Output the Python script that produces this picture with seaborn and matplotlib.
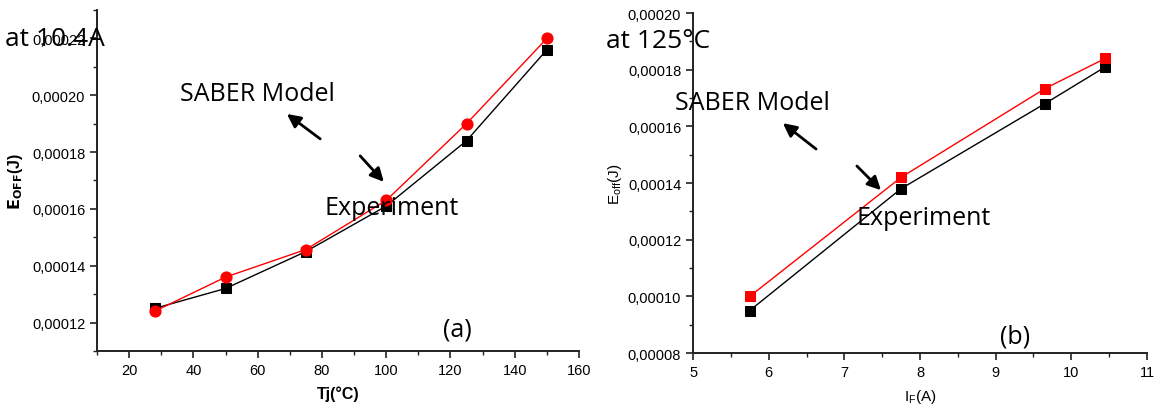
import matplotlib
matplotlib.use("Agg")
import matplotlib.pyplot as plt
from matplotlib.ticker import FuncFormatter, MultipleLocator
import seaborn as sns
import pandas as pd

# Panel (a): turn-off energy vs junction temperature at 10.4 A
tj_c = [28, 50, 75, 100, 125, 150]
eoff_exp_a = [0.000125, 0.000132, 0.000145, 0.000161, 0.000184, 0.000216]
eoff_saber_a = [0.000124, 0.000136, 0.0001457, 0.000163, 0.000190, 0.000220]

# Panel (b): turn-off energy vs forward current at 125 °C
if_a = [5.75, 7.75, 9.65, 10.45]
eoff_exp_b = [0.000095, 0.000138, 0.000168, 0.000181]
eoff_saber_b = [0.000100, 0.000142, 0.0001733, 0.000184]

sns.set_style("ticks")
plt.rcParams["font.family"] = ["Liberation Sans", "DejaVu Sans"]
plt.rcParams["text.color"] = "black"
plt.rcParams["axes.labelcolor"] = "black"
ANN_FONT = ["Open Sans", "DejaVu Sans"]

fig = plt.figure(figsize=(11.56, 4.06), dpi=100)
ax_a = fig.add_axes([0.0839, 0.133, 0.417, 0.840])
ax_b = fig.add_axes([0.5995, 0.128, 0.3927, 0.8375])

comma_fmt = FuncFormatter(lambda v, _: f"{v:.5f}".replace(".", ","))

df_a = pd.DataFrame({"Tj": tj_c, "exp": eoff_exp_a, "saber": eoff_saber_a})
df_b = pd.DataFrame({"IF": if_a, "exp": eoff_exp_b, "saber": eoff_saber_b})

sns.lineplot(data=df_a, x="Tj", y="exp", ax=ax_a, color="black", lw=1,
             marker="s", markersize=7, markeredgecolor="black")
sns.lineplot(data=df_a, x="Tj", y="saber", ax=ax_a, color="red", lw=1,
             marker="o", markersize=8, markeredgecolor="red")

sns.lineplot(data=df_b, x="IF", y="exp", ax=ax_b, color="black", lw=1,
             marker="s", markersize=7, markeredgecolor="black")
sns.lineplot(data=df_b, x="IF", y="saber", ax=ax_b, color="red", lw=1,
             marker="s", markersize=7, markeredgecolor="red")

ax_a.set_xlim(10, 160)
ax_a.set_ylim(0.00011, 0.00023)
ax_a.xaxis.set_major_locator(MultipleLocator(20))
ax_a.xaxis.set_minor_locator(MultipleLocator(10))
ax_a.yaxis.set_major_locator(MultipleLocator(0.00002))
ax_a.yaxis.set_minor_locator(MultipleLocator(0.00001))
ax_a.yaxis.set_major_formatter(comma_fmt)
ax_a.set_xlabel("Tj(°C)", fontsize=11.5, fontweight="bold", labelpad=6)
ax_a.set_ylabel(r"$\mathbf{E_{OFF}}$(J)", fontsize=11.5, fontweight="bold", labelpad=5)

ax_b.set_xlim(5, 11)
ax_b.set_ylim(0.00008, 0.00020)
ax_b.xaxis.set_major_locator(MultipleLocator(1))
ax_b.xaxis.set_minor_locator(MultipleLocator(0.5))
ax_b.yaxis.set_major_locator(MultipleLocator(0.00002))
ax_b.yaxis.set_minor_locator(MultipleLocator(0.00001))
ax_b.yaxis.set_major_formatter(comma_fmt)
ax_b.set_xlabel(r"I$_\mathregular{F}$(A)", fontsize=11, labelpad=6)
ax_b.set_ylabel(r"E$_\mathregular{off}$(J)", fontsize=11, labelpad=3)

for ax in (ax_a, ax_b):
    sns.despine(ax=ax)
    for s in ("left", "bottom"):
        ax.spines[s].set_linewidth(1.4)
        ax.spines[s].set_color("#222222")
    ax.tick_params(which="major", direction="out", length=5, width=1.2,
                   labelsize=10.5, colors="#222222", labelcolor="black")
    ax.tick_params(which="minor", direction="out", length=3, width=1.0,
                   colors="#222222")

arrow = dict(arrowstyle="-|>", color="black", lw=2, mutation_scale=20,
             shrinkA=0, shrinkB=0)

def annotate_panel(ax, cond, cond_xy, saber_xy, a1, a2, exp_xy, tag, tag_xy):
    ax.text(*cond_xy, cond, transform=ax.transAxes, fontsize=19,
            family=ANN_FONT, ha="center", va="center", clip_on=False)
    ax.text(*saber_xy, "SABER Model", transform=ax.transAxes, fontsize=18,
            family=ANN_FONT, ha="center", va="center")
    ax.annotate("", xy=a1[1], xytext=a1[0], xycoords="axes fraction",
                textcoords="axes fraction", arrowprops=arrow)
    ax.annotate("", xy=a2[1], xytext=a2[0], xycoords="axes fraction",
                textcoords="axes fraction", arrowprops=arrow)
    ax.text(*exp_xy, "Experiment", transform=ax.transAxes, fontsize=18,
            family=ANN_FONT, ha="center", va="center")
    ax.text(*tag_xy, tag, transform=ax.transAxes, fontsize=18,
            family=ANN_FONT, ha="center", va="center")

annotate_panel(ax_a, "at 10.4A", (-0.087, 0.915), (0.332, 0.754),
               ((0.463, 0.622), (0.394, 0.695)),
               ((0.546, 0.572), (0.595, 0.496)),
               (0.612, 0.422), "(a)", (0.747, 0.065))
annotate_panel(ax_b, "at 125°C", (-0.077, 0.918), (0.130, 0.738),
               ((0.271, 0.600), (0.198, 0.676)),
               ((0.361, 0.550), (0.414, 0.479)),
               (0.507, 0.400), "(b)", (0.709, 0.050))

fig.savefig("out.png", dpi=100)
